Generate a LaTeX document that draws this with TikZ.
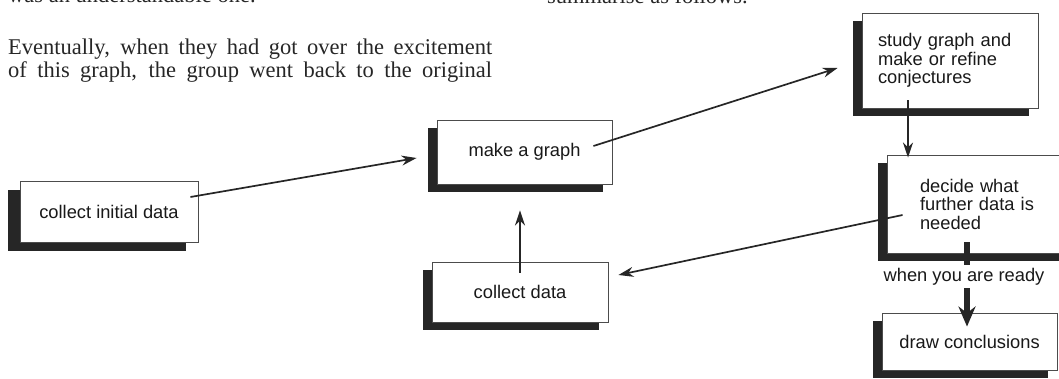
\documentclass[tikz,border=0pt]{standalone}
\usepackage{fontspec}
\setmainfont{Liberation Serif}
\setsansfont{Liberation Sans}
\usepackage{tikz}
\usetikzlibrary{arrows.meta}
\usetikzlibrary{shadows}

\begin{document}
\begin{tikzpicture}[x=1pt,y=-1pt]
    \tikzstyle{box}=[rectangle,draw=black!70,line width=0.9pt,fill=white,inner sep=0pt,
                     text=black!90,font=\sffamily\fontsize{18.3}{18.5}\selectfont]
    \tikzstyle{low shadow}=[drop shadow={shadow xshift=-9pt,shadow yshift=-8pt,fill=black!85,opacity=1}]
    \tikzstyle{wide shadow}=[drop shadow={shadow xshift=-12pt,shadow yshift=-9pt,fill=black!85,opacity=1}]
    \tikzstyle{flow}=[-{Stealth[length=15pt,width=10pt]},line width=1.7pt,color=black!85]
    \tikzstyle{ready flow}=[-{Stealth[length=20pt,width=17pt]},line width=5.5pt,color=black!85]
    \tikzstyle{ready text}=[fill=white,inner xsep=2pt,inner ysep=3pt,text=black!90,
                            font=\sffamily\fontsize{18.3}{18.5}\selectfont]
    \tikzstyle{page text}=[anchor=base west,inner sep=0pt,text=black!85,font=\fontsize{22.5}{23}\selectfont]

    \path[use as bounding box,clip] (0,0) rectangle (1059,379);

    % Page text round the figure
    \node[style=page text] (was) at (8,3) {was an understandable one.};
    \node[style=page text] (line1) at (8,55) {\makebox[484pt][s]{Eventually, when they had got over the excitement}};
    \node[style=page text] (line2) at (8,78) {\makebox[484pt][s]{of this graph, the group went back to the original}};
    \node[style=page text] (summ) at (547,4) {summarise as follows.};

    % Boxes
    \node[box,wide shadow,minimum width=178pt,minimum height=61pt] (init) at (109,211.5) {collect initial data};
    \node[box,low shadow,minimum width=175pt,minimum height=64pt] (graph) at (524.5,152) {make a graph};
    \node[box,low shadow,minimum width=176pt,minimum height=95pt,
          text width=144pt,inner xsep=16pt,align=left] (study) at (950,60.5)
          {study graph and\\make or refine\\conjectures};
    \node[box,low shadow,minimum width=188pt,minimum height=98pt,
          text width=122pt,inner xsep=33pt,align=left] (decide) at (981,204)
          {decide what\\further data is\\needed};
    \node[box,low shadow,minimum width=176pt,minimum height=60pt] (collect) at (520,292) {collect data};
    \node[box,low shadow,minimum width=175pt,minimum height=57pt] (concl) at (969.5,341.5) {draw conclusions};

    % Arrows
    \draw[style=flow] ([xshift=-8pt,yshift=14.5pt]init.east) -- ([xshift=-20pt,yshift=-6pt]graph.west);
    \draw[style=flow] ([xshift=-19pt,yshift=6pt]graph.east) -- ([xshift=-24pt,yshift=-7.5pt]study.west);
    \draw[style=flow] ([xshift=-42pt,yshift=8pt]study.south) -- ([xshift=-73pt,yshift=-3pt]decide.north);
    \draw[style=flow] ([xshift=16pt,yshift=-11pt]decide.west) -- ([xshift=10pt,yshift=17pt]collect.east);
    \draw[style=flow] ([yshift=-11pt]collect.north) -- ([xshift=-4.5pt,yshift=-26pt]graph.south);
    \draw[style=ready flow] ([xshift=-14pt,yshift=11pt]decide.south) -- ([xshift=-2.5pt,yshift=-14pt]concl.north)
        node[style=ready text,pos=0.41,xshift=-3pt] (ready) {when you are ready};

\end{tikzpicture}
\end{document}
